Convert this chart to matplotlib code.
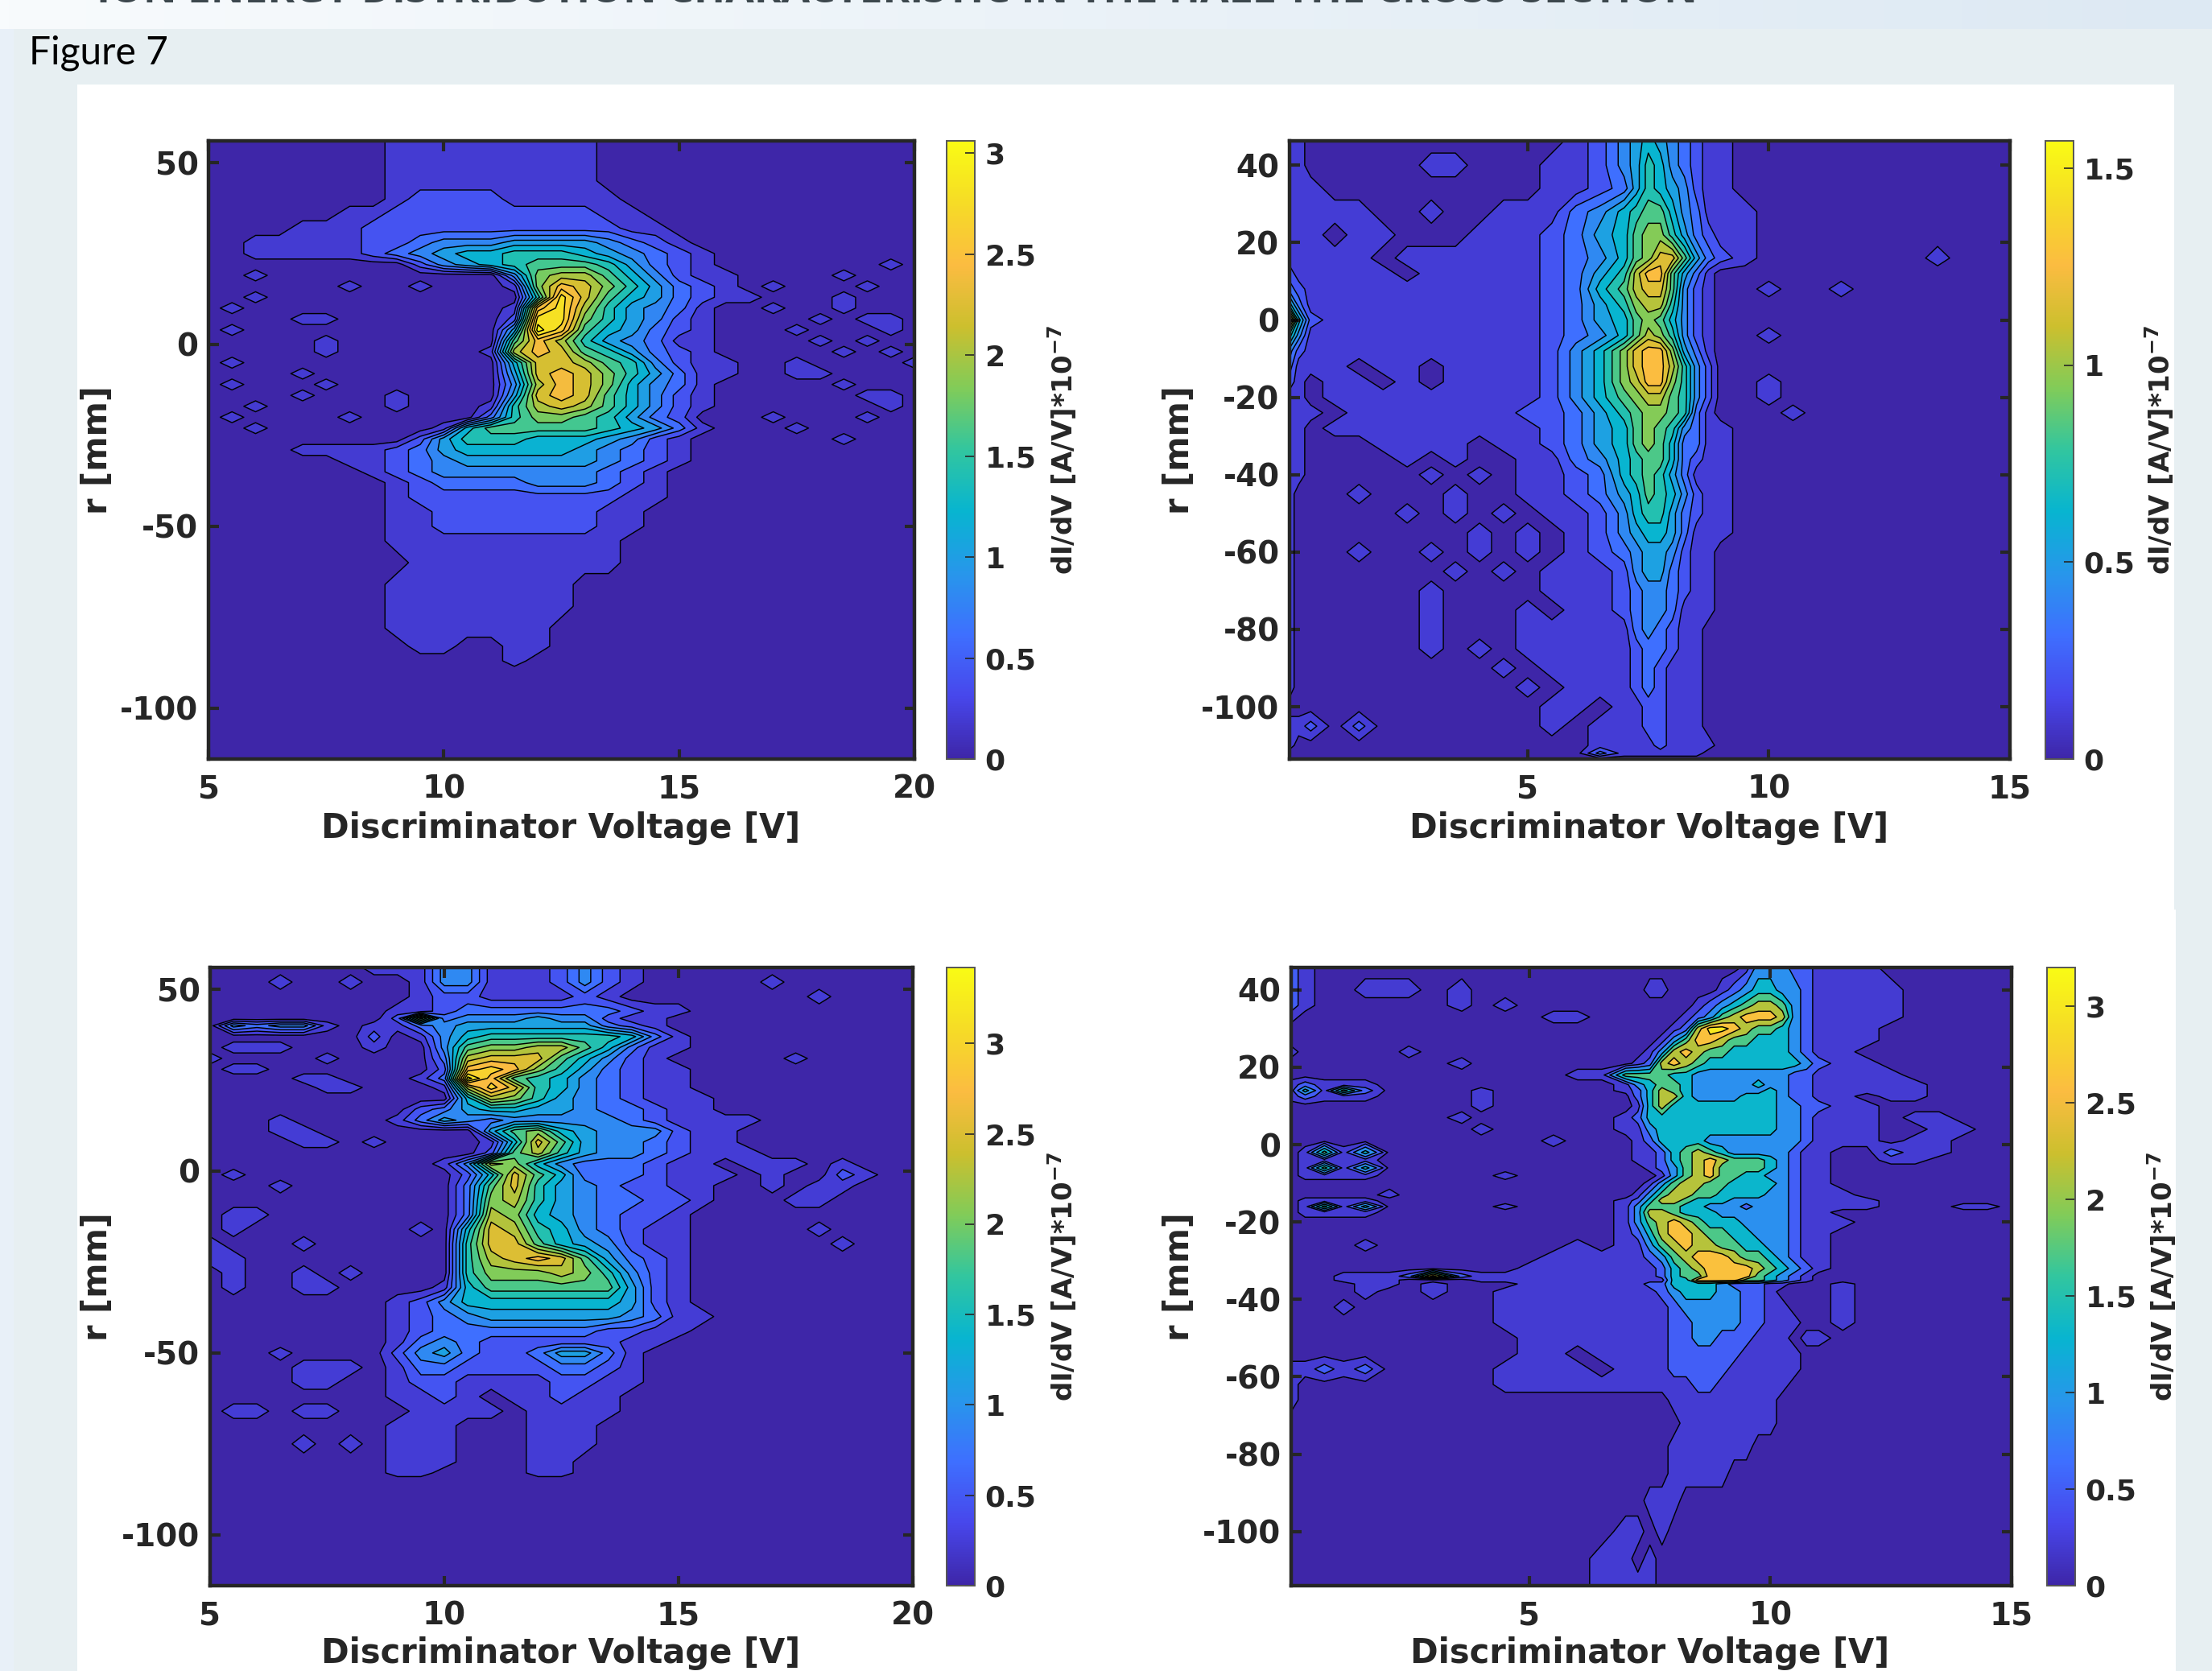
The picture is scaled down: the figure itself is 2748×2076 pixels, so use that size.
import numpy as np
import matplotlib
matplotlib.use("Agg")
import matplotlib.pyplot as plt
from matplotlib.colors import LinearSegmentedColormap, Normalize, to_rgb
from matplotlib.cm import ScalarMappable
from matplotlib.patches import Rectangle

W, H = 2748, 2076
plt.rcParams['font.family'] = 'DejaVu Sans'
plt.rcParams['font.weight'] = 'bold'
plt.rcParams['mathtext.fontset'] = 'dejavusans'
plt.rcParams['mathtext.default'] = 'bf'
plt.rcParams['axes.unicode_minus'] = False
INK = '#262626'

parula_rgb = [(0.2422,0.1504,0.6603),(0.2803,0.2782,0.9221),(0.2440,0.4358,0.9988),
              (0.1540,0.5902,0.9218),(0.0297,0.7082,0.8163),(0.1938,0.7758,0.6251),
              (0.5044,0.7993,0.3480),(0.8000,0.7500,0.1800),(0.9856,0.7372,0.2537),
              (0.9628,0.8595,0.1500),(0.9769,0.9839,0.0805)]
parula = LinearSegmentedColormap.from_list('parula', parula_rgb, N=256)

# Grid values are contour-band numbers (base-36 digits per cell).
panel1_v = [5+0.5*i for i in range(31)]
panel1_r = [56,50,45,40,36,32,28,25,22,19,16,13,10,7,4,1,-2,-5,-8,-11,-14,-17,-20,-23,-26,-29,-32,-35,-38,-42,-46,-50,-54,-60,-66,-72,-78,-83,-87,-90,-114]
panel1_levels = [0.2*i for i in range(16)]
panel1_vmax = 3.06
panel1_rows = [
"0000000011111111100000000000000",
"0000000011111111100000000000000",
"0000000011111111100000000000000",
"0000000012222111110000000000000",
"0000001122222222211000000000000",
"0000111222222222221100000000000",
"0011111223444555543210000000000",
"0011111234566777654321000000000",
"0000000002456788875321000000010",
"0010000000000 49aa86421 1 00001000",
"0000001001000 19cb975321 01000100",
"0010000000000 07eb865321 1 0001000",
"0100000000000 1cea75431 0 01001000",
"0000110000000 2ee975421 0 00010110",
"0100000000000 5fd865321 0 00100010",
"0000010000000 8ca754311 0 00010100",
"0000010000001 acb875321 0 00001010",
"0100000000000 6bba87421 1 00100001",
"0000100000000 5bcb97531 1 00110000",
"0100010000000 4acb96431 0 00001000",
"0000100010000 5bcb86421 0 00000110",
"0010000010001 7aba86421 0 00000010",
"0100001000003 799875320 0 01000100",
"0010000000168 888876531 0 00100000",
"0000000002577 766654210 0 00001000",
"0000111123566 666543210 0 00000000",
"0000001123455 555543210",
"0000000123444 444432100",
"0000000012333 344432100",
"0000000012222 222221100",
"0000000011222 222211000",
"0000000011222 222211000",
"0000000011111 111110000",
"0000000001111 111110000",
"0000000011111 111000000",
"0000000011111 111000000",
"0000000011111 110000000",
"0000000001100 110000000",
"0000000000000 100000000",
"0000000000000",
"0000000000000",
]

panel2_v = [0.06,0.25,0.5,1,1.5,2,2.5,3,3.5,4,4.5,5,5.5,6,6.5,7,7.25,7.5,7.75,8,8.25,8.5,8.75,9,9.5,10,10.5,11,11.5,12,12.5,13,13.5,14,14.5,15]
panel2_r = [46.3,40,34,28,22,16,12,8,4,0,-4,-8,-12,-16,-20,-24,-28,-32,-36,-40,-45,-50,-55,-60,-65,-70,-75,-80,-85,-90,-95,-100,-105,-110,-112,-113.5]
panel2_levels = [0.105*i for i in range(16)]
panel2_vmax = 1.57
panel2_rows = [
"1100000000000 12456543211",
"1100000110001 12457643211",
"1110000000001 12357654211",
"1111100100111 34678864311 1",
"1110110001112 35689975321 1",
"1111101111112 34689bb8532 1000000010",
"2111110111112 357acc85310",
"3211111111112 368abb84210 010010",
"6311111111112 3579aa74210",
"c621111111112 35689864210",
"7411111111112 3468a974210 010000",
"4211111111112 469bcc95310",
"3111011011112 469bcca7420",
"2101101011112 469acc97420 010000",
"1101111111112 4689aa87420 0100000",
"1110111111122 35789987310 0010000",
"1101111111112 35689874311",
"1100011110112 35689863311",
"1100001010011 34678863211",
"1100000101011 23678753111",
"1000100010011 23568764211",
"1000001010101 12467753211",
"1000000001010 12456653111",
"1000100101010 12345542110",
"1000000010101 11245532110",
"1000000100001 11234432110",
"1000000100010 11234431110",
"1000000100011 11134321100",
"1000000101011 11123321100",
"1000000000101 11123211100",
"1000000000010 11123211100",
"0000000000001 10112211100",
"1120200000001 01112211100",
"1000000000000 01111211110",
"0000000000000 03111111100",
"0000000000000",
]

panel3_v = [5+0.5*i for i in range(31)]
panel3_r = [56,52,48,44,42,40,37,34,31,28,25.5,23,20,17,14,11,8,5,2,-1,-4,-8,-12,-16,-20,-24,-28,-32,-36,-40,-44,-47,-50,-54,-58,-62,-66,-70,-75,-80,-83,-85,-114]
panel3_levels = [0.228*i for i in range(16)]
panel3_vmax = 3.42
panel3_rows = [
"0000000111441112421000000000000",
"0001001001441112421000001000000",
"0000000001221111210000000010000",
"0000000011233333332110000000000",
"0000000029344454421100000000000",
"0434410113455555532100000000000",
"0000000201467777776310000000000",
"0111000100489 9aa86311",
"1000010000 3abbb864210 00001000",
"0110000000 2cdc97532110",
"0000110001 3fc87643211",
"0000011000 1adb76432110",
"0000000000 06a975432111",
"0000000002 356655433211",
"0001000013 543444443211110",
"0001100000 00589654442110",
"0000110100 0016b854432110",
"0000000000 0028a754432111",
"0000000000 14a96433321101110 10",
"0100000000 026b863332111010 0210",
"0001000000 038b754322110010 1100",
"0000000000 039a75433221000 11",
"0110000000 03a96543221",
"0100000001 06ba76432 11 000001",
"1000100000 07bb86542 110 000001",
"1100000000 07abcb85321",
"0100101000 07999a97421",
"0100110000 16888888521",
"0000000012 46666666521",
"0000000012 345555554311",
"0000000012 33333332211",
"0000000013 4322222211",
"0001000024 532235531",
"0000111013 322223321",
"0000110012 211112211",
"0000000011 210112110",
"0110110001 1110111100",
"0000000011 1000111",
"0000101011 1000111",
"0000000011 1000110",
"0000000011 0000110",
"0000000000",
"0000000000",
]

panel4_v = [0.06,0.35,0.75,1.15,1.6,2.1,2.5,3,3.6,4,4.5,5,5.5,6,6.5,7,7.25,7.5,7.75,8,8.25,8.5,8.75,9,9.25,9.5,9.75,10,10.25,10.5,10.75,11,11.5,12,12.5,13,13.5,14,14.5,15]
panel4_r = [45.8,40,36,33,30,27,24,21,18,15.5,14,12.5,10,7,4,1,-2,-4,-6,-8,-10,-13,-14.5,-16,-17.5,-20,-23,-26,-29,-32,-34,-35,-36,-38,-42,-46,-50,-54,-58,-62,-66,-72,-78,-85,-92,-100,-107,-114]
panel4_levels = [0, 0.2, 0.5, 0.9, 1.3, 1.7, 2.15, 2.6, 3.0]
panel4_vmax = 3.2
panel4_rows = [
"210000000000000 0000000000 1333221110",
"210011101000000 00110000 123443321111",
"210000001010000 000000 123456653211 11",
"100000000000110 00000 123567776321111",
"000000000000000 0000 126887655432111",
"000000000000000 000 1357765544432111",
"100000100000000 00 136765544444321 1",
"000000001000000 0 1267654444444432 11",
"000000000000011 5555443333333322 1111",
"121110000000000 1345543333343322 11111",
"141520000100000 1246543333334322 11111",
"121110000100000 0246643333444322 11011",
"000000000100000 014644444444433 2211",
"000000001000000 1244444444444332 111 0110",
"000000000100000 1134444444444332 111 0011",
"000000000000100 012444433333333 2111011",
"015140000000000 011245654333332 1100211",
"011110000000000 011245676555432 110011",
"015140000000000 001235675555432 11000",
"011110000010000 000135675544332 11000",
"000000000000000 001356655444432 11000",
"000001000000000 013566554444332 111",
"011110000000000 124665444333332 1111",
"015140000010000 135554433323332 1111 00011",
"011110000000000 136654443333332 11",
"000000000000000 135676544433332 111",
"000000000000000 124677655443332 11",
"000010000000010 113567665544332 11",
"000000000000111 112356777655432 11",
"000000000001111 111245677776543 21",
"000111272111111 111245577775432 1",
"000111000111111 111144777755432 1",
"000011010001111 112244443222110 0010",
"000010010011111 111234443322100 0010",
"000100000011111 111123333322110 0010",
"000000000011111 111122333322111 0010",
"000000000001111 111122332221110 11",
"000000000001101 11112222221111 1",
"112120000011110 1111222221111 11",
"100000000011111 11111122111111",
"100000000000000 0000111111111 00",
"000000000000000 0000011111111",
"000000000000000 000011111110",
"000000000000000 000011111",
"000000000000000 001110",
"000000000000000 110100",
"000000000000001 10100",
"000000000000001 11100",
]

panel1_ticks_x = [5,10,15,20]
panel1_ticks_y = [50,0,-50,-100]
panel2_ticks_x = [5,10,15]
panel2_ticks_y = [40,20,0,-20,-40,-60,-80,-100]
panel1_cbar = [0,0.5,1,1.5,2,2.5,3]
panel2_cbar = [0,0.5,1,1.5]
panel3_cbar = [0,0.5,1,1.5,2,2.5,3]
panel4_cbar = [0,0.5,1,1.5,2,2.5,3]

fig = plt.figure(figsize=(W/100, H/100), dpi=100, facecolor='white')

def rect(x0, y0, x1, y1):
    return [x0/W, 1-y1/H, (x1-x0)/W, (y1-y0)/H]

bg = fig.add_axes([0,0,1,1], zorder=0)
bg.axis('off')
c0, c1 = np.array(to_rgb('#f8fbfd')), np.array(to_rgb('#dde9f3'))
band = np.linspace(0,1,256)[None,:,None]*(c1-c0)+c0
bg.imshow(band, extent=(0,W,36,0), aspect='auto', zorder=1)
bg.set_xlim(0,W); bg.set_ylim(H,0)
bg.add_patch(Rectangle((0,36),17,H-36,color='#e8f0f8',lw=0,zorder=1))
bg.add_patch(Rectangle((17,36),W-17,H-36,color='#e7eff2',lw=0,zorder=2))
bg.add_patch(Rectangle((96,105),2605,1026,color='white',lw=0,zorder=3))
bg.add_patch(Rectangle((96,1130),2607,H-1130,color='white',lw=0,zorder=3))
fig.text(36/W, 1-66/H, 'Figure 7', family='Lato', weight='normal', fontsize=34.5, va='center', color='black')
fig.text(120/W, 1-3/H, 'ION ENERGY DISTRIBUTION CHARACTERISTIC IN THE HALL THE CROSS-SECTION',
         family='Open Sans', weight='bold', fontsize=37, va='baseline', color='#3c474d')

def decode(rows, nv, levels):
    z = np.zeros((len(rows), nv))
    for i, row in enumerate(rows):
        s = row.replace(' ', '').ljust(nv, '0')[:nv]
        for j, ch in enumerate(s):
            z[i, j] = levels[min(int(ch, 36), len(levels)-1)]
    return z

def panel(box, cbox, v, r, rows, levels, vmax, xlim, ylim, xt, yt, ct, xc, yl_x, cl_x, xlab_y):
    ax = fig.add_axes(rect(*box), zorder=5)
    z = decode(rows, len(v), levels)
    lv = np.array(levels)
    mids = (lv[:-1]+lv[1:])/2
    bounds = np.concatenate([[-1], mids, [lv[-1]+1]])
    cols = [parula(min(l/vmax, 1.0)) for l in lv]
    ax.contourf(v, r, z, levels=bounds, colors=cols)
    ax.contour(v, r, z, levels=mids, colors='black', linewidths=1.05)
    ax.set_xlim(*xlim); ax.set_ylim(*ylim)
    ax.set_xticks(xt); ax.set_yticks(yt)
    ax.tick_params(direction='in', length=9, width=3, top=True, right=True,
                   labelsize=28, colors=INK, pad=13)
    ax.tick_params(axis='y', pad=9)
    for s in ax.spines.values():
        s.set_linewidth(3.2); s.set_color(INK)
    fig.text(xc/W, 1-xlab_y/H, 'Discriminator Voltage [V]', ha='center', va='center', fontsize=30, color=INK)
    fig.text(yl_x/W, 1-(box[1]+box[3])/2/H, 'r [mm]', rotation=90, ha='center', va='center', fontsize=30, color=INK)
    cax = fig.add_axes(rect(*cbox), zorder=5)
    cb = fig.colorbar(ScalarMappable(Normalize(0, vmax), parula), cax=cax)
    cb.set_ticks(ct)
    cb.set_ticklabels(['%g' % t for t in ct])
    cax.tick_params(direction='in', length=9, width=1.2, labelsize=26, colors=INK, pad=9)
    cb.outline.set_edgecolor('#555555'); cb.outline.set_linewidth(1.4)
    fig.text(cl_x/W, 1-(box[1]+box[3])/2/H, 'dI/dV [A/V]*10$^{-7}$', rotation=90, ha='center', va='center', fontsize=24.5, color=INK)
    return ax

panel((259,175,1136,943),(1176,175,1211,943),panel1_v,panel1_r,panel1_rows,panel1_levels,panel1_vmax,(5,20),(-114,56),panel1_ticks_x,panel1_ticks_y,panel1_cbar,697,121,1320,1029)
panel((1602,175,2497,943),(2541,175,2576,943),panel2_v,panel2_r,panel2_rows,panel2_levels,panel2_vmax,(0.06,15),(-113.5,46.3),panel2_ticks_x,panel2_ticks_y,panel2_cbar,2049,1465,2683,1029)
panel((261,1202,1134,1970),(1176,1202,1211,1970),panel3_v,panel3_r,panel3_rows,panel3_levels,panel3_vmax,(5,20),(-114,56),panel1_ticks_x,panel1_ticks_y,panel3_cbar,697,121,1320,2054)
panel((1604,1202,2499,1970),(2543,1202,2578,1970),panel4_v,panel4_r,panel4_rows,panel4_levels,panel4_vmax,(0.06,15),(-114,45.8),panel2_ticks_x,panel2_ticks_y,panel4_cbar,2050,1465,2686,2054)

fig.savefig('out.png', dpi=100)
